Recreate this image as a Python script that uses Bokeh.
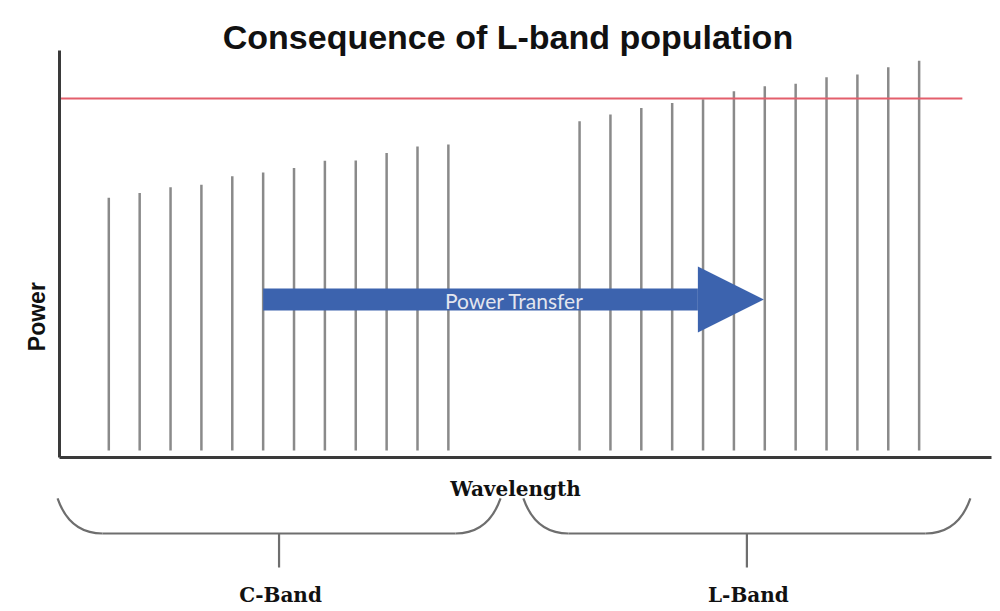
import numpy as np
from bokeh.plotting import figure
from bokeh.models import Range1d, LinearAxis, FixedTicker, Arrow, NormalHead
from bokeh.core.properties import value
from bokeh.embed import file_html
from bokeh.resources import INLINE

# ---------------- data ----------------
title_text = "Consequence of L-band population"
c_channels = [1, 2, 3, 4, 5, 6, 7, 8, 9, 10, 11, 12]
c_power = [6.38, 6.50, 6.64, 6.70, 6.91, 7.00, 7.11, 7.29, 7.30, 7.48, 7.64, 7.69]
l_channels = [16.25, 17.25, 18.25, 19.25, 20.25, 21.25, 22.25, 23.25, 24.25, 25.25, 26.25, 27.25]
l_power = [8.26, 8.43, 8.59, 8.71, 8.80, 9.00, 9.12, 9.18, 9.34, 9.41, 9.59, 9.75]
threshold = 8.82
band_names = ["C-Band", "L-Band"]
band_spans = [(-0.66, 13.69), (14.43, 28.91)]
x_label = "Wavelength"
y_label = "Power"
arrow_label = "Power Transfer"

# ---------------- layout constants ----------------
W, H = 1000, 611
XPX = 30.87   # px per channel unit
YPX = 40.7    # px per power unit
x0_range = 1 - 108.3 / XPX
y0_range = (457 - 611) / YPX
axis_x = -0.613
axis_x_end = 29.59
red_end = 28.65
base = 0.17
y_axis_top = 10.0

p = figure(width=W, height=H, output_backend="svg", toolbar_location=None,
           x_range=Range1d(x0_range, x0_range + W / XPX),
           y_range=Range1d(y0_range, y0_range + H / YPX),
           x_axis_location=None, y_axis_location=None, min_border=0,
           outline_line_color=None, background_fill_color="white",
           border_fill_color="white")
p.grid.grid_line_color = None

axis_col = "#3a3a3a"
xa = LinearAxis(fixed_location=0, bounds=(axis_x, axis_x_end), ticker=FixedTicker(ticks=[]),
                axis_line_width=3, axis_line_color=axis_col,
                major_tick_line_color=None, minor_tick_line_color=None,
                major_label_text_font_size="0px")
ya = LinearAxis(fixed_location=axis_x, bounds=(0, y_axis_top), ticker=FixedTicker(ticks=[]),
                axis_line_width=3, axis_line_color=axis_col,
                major_tick_line_color=None, minor_tick_line_color=None,
                major_label_text_font_size="0px")
p.add_layout(xa, "below")
p.add_layout(ya, "left")

# channel lines
chan_col = "#8a8a8a"
p.segment(x0=c_channels, y0=[base] * len(c_channels), x1=c_channels, y1=c_power,
          line_width=2.5, line_color=chan_col)
p.segment(x0=l_channels, y0=[base] * len(l_channels), x1=l_channels, y1=l_power,
          line_width=2.5, line_color=chan_col)

# threshold line
p.segment(x0=[axis_x + 0.05], y0=[threshold], x1=[red_end], y1=[threshold],
          line_width=2, line_color="#e35f6c")

# arrow
arrow_y = 3.88
arrow_col = "#3c63ae"
p.add_layout(Arrow(x_start=c_channels[5], y_start=arrow_y, x_end=l_channels[6] - 0.03, y_end=arrow_y,
                   line_width=22, line_color=arrow_col,
                   end=NormalHead(size=66, fill_color=arrow_col, line_color=arrow_col, line_width=0)))
t_arrow = p.text(x=[14.14], y=[3.86], text=[arrow_label], text_align="center", text_baseline="middle",
                 text_font=value("Lato"), text_font_size="21px", text_color="#e3e6ee")
t_arrow.level = "overlay"

# title
p.text(x=[13.93], y=[10.32], text=[title_text], text_align="center", text_baseline="alphabetic",
       text_font=value("Liberation Sans"), text_font_style="bold", text_font_size="34px",
       text_color="#111111")

# axis labels
p.text(x=[-1.342], y=[3.46], text=[y_label], angle=np.pi / 2, text_align="center",
       text_baseline="middle", text_font=value("Liberation Sans"), text_font_style="bold",
       text_font_size="23px", text_color="#111111")
p.text(x=[14.175], y=[-0.786], text=[x_label], text_align="center", text_baseline="alphabetic",
       text_font=value("DejaVu Serif"), text_font_style="bold", text_font_size="20px",
       text_color="#111111")

# braces
yt, yb, ytick = -1.007, -1.867, -2.703
rx = 45 / XPX
ry = yt - yb
brace_col = "#6e6e6e"
for (b0, b1), name in zip(band_spans, band_names):
    mid = (b0 + b1) / 2
    p.bezier(x0=[b0], y0=[yt], x1=[b0 + rx], y1=[yb],
             cx0=[b0 + 0.15 * rx], cy0=[yt - 0.55 * ry], cx1=[b0 + 0.45 * rx], cy1=[yb],
             line_width=2.2, line_color=brace_col)
    p.bezier(x0=[b1 - rx], y0=[yb], x1=[b1], y1=[yt],
             cx0=[b1 - 0.45 * rx], cy0=[yb], cx1=[b1 - 0.15 * rx], cy1=[yt - 0.55 * ry],
             line_width=2.2, line_color=brace_col)
    p.segment(x0=[b0 + rx], y0=[yb], x1=[b1 - rx], y1=[yb], line_width=2.2, line_color=brace_col)
    p.segment(x0=[mid], y0=[yb], x1=[mid], y1=[ytick], line_width=2.2, line_color=brace_col)
    p.text(x=[mid + 0.05], y=[-3.39], text=[name], text_align="center", text_baseline="alphabetic",
           text_font=value("DejaVu Serif"), text_font_style="bold", text_font_size="20px",
           text_color="#111111")

open("out.html", "w").write(file_html(p, INLINE))
